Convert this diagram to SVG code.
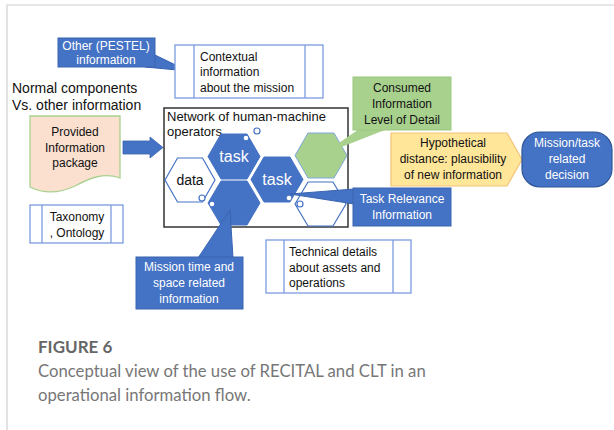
<svg xmlns="http://www.w3.org/2000/svg" width="614" height="430" viewBox="0 0 614 430">
<style>
text{font-family:"Liberation Sans",Arial,sans-serif;font-size:12px;fill:#111}
.w{fill:#fff}
.c{text-anchor:middle}
.blue{fill:#4472c4;stroke:#3a64b0;stroke-width:1}
.lbox{fill:#fff;stroke:#7c9be0;stroke-width:1.3}
.hexd{fill:#4472c4;stroke:#4472c4;stroke-width:1}
.hexw{fill:#fff;stroke:#4472c4;stroke-width:1.2}
.dot{fill:#fff;stroke:none}
.ring{fill:#fff;stroke:#4472c4;stroke-width:1.2}
.cap1{font-family:Lato,"Open Sans",sans-serif;font-size:17px;font-weight:bold;fill:#666}
.cap2{font-family:Lato,"Open Sans",sans-serif;font-size:16.7px;fill:#777}
</style>
<rect width="614" height="430" fill="#fff"/>
<path d="M7,430 V5 H614" fill="none" stroke="#d0d0d0" stroke-width="1.2"/>

<g id="heading">
<text x="12" y="93" style="font-size:14px">Normal components</text>
<text x="12" y="110" style="font-size:14px">Vs. other information</text>
</g>

<g id="network">
<rect x="164" y="108" width="184" height="119" fill="#fff" stroke="#333" stroke-width="1.5"/>
<text x="167" y="121" style="font-size:13px">Network of human-machine</text>
<text x="167" y="136" style="font-size:13px">operators</text>
</g>

<g id="hex-task1">
<polygon class="hexd" points="208,156.5 221,134 247,134 260,156.5 247,179 221,179"/>
<text x="234" y="162" class="w c" style="font-size:16px">task</text>
<circle class="dot" cx="246" cy="138" r="2.3"/>
<circle class="ring" cx="257" cy="131" r="3"/>
</g>
<g id="hex-data">
<polygon class="hexw" points="165,180 177.5,158 202.5,158 215,180 202.5,202 177.5,202"/>
<text x="190" y="185" class="c" style="font-size:14px">data</text>
<circle class="ring" cx="202" cy="198" r="3"/>
</g>
<g id="hex-bottom">
<polygon class="hexd" points="208,203 221,181 247,181 260,203 247,225 221,225"/>
<circle class="dot" cx="212" cy="204" r="2.3"/>
</g>
<g id="hex-task2">
<polygon class="hexd" points="251,179.5 264,157 290,157 303,179.5 290,202 264,202"/>
<text x="277" y="185" class="w c" style="font-size:16px">task</text>
<circle class="dot" cx="289" cy="198" r="2.3"/>
</g>
<g id="hex-green">
<polygon points="295,155.5 308,133 334,133 347,155.5 334,178 308,178" fill="#a9d18e" stroke="#7ea7dc" stroke-width="1"/>
</g>
<g id="hex-white">
<polygon class="hexw" points="295,204 308,182 333,182 346,204 333,226 308,226"/>
<circle class="ring" cx="300" cy="204" r="3"/>
</g>

<g id="connectors">
<polygon points="123,141 150,141 150,137 163,147.5 150,158 150,154 123,154" fill="#4472c4" stroke="#3a64b0" stroke-width="0.8"/>
</g>

<g id="pestel">
<polygon class="blue" points="155,55 188,71 145,67"/>
<rect class="blue" x="58" y="38" width="97" height="29"/>
<text x="106" y="50" class="w c">Other (PESTEL)</text>
<text x="106" y="64" class="w c">information</text>
</g>

<g id="contextual">
<rect class="lbox" x="175" y="45" width="148" height="53"/>
<line x1="194" y1="45" x2="194" y2="98" stroke="#7c9be0" stroke-width="1.3"/>
<line x1="305" y1="45" x2="305" y2="98" stroke="#7c9be0" stroke-width="1.3"/>
<text x="200" y="61">Contextual</text>
<text x="200" y="76">information</text>
<text x="200" y="92">about the mission</text>
</g>

<g id="provided">
<path d="M30,116 H120 V178 C104,172 90,178 75,186 C60,193 44,194 30,187 Z" fill="#fbe0d0" stroke="#a9d18e" stroke-width="1.3"/>
<text x="75" y="136" class="c">Provided</text>
<text x="75" y="152" class="c">Information</text>
<text x="75" y="167" class="c">package</text>
</g>

<g id="taxonomy">
<rect class="lbox" x="30" y="205" width="93" height="38"/>
<line x1="42" y1="205" x2="42" y2="243" stroke="#7c9be0" stroke-width="1.3"/>
<line x1="111" y1="205" x2="111" y2="243" stroke="#7c9be0" stroke-width="1.3"/>
<text x="77" y="221" class="c">Taxonomy</text>
<text x="77" y="237" class="c">, Ontology</text>
</g>

<g id="consumed">
<polygon points="360,129 386,129 325,153" fill="#a9d18e" stroke="#a9d18e" stroke-width="1"/>
<rect x="353" y="77" width="98" height="53" fill="#a9d18e" stroke="#9cc87f" stroke-width="1"/>
<text x="402" y="92" class="c">Consumed</text>
<text x="402" y="108" class="c">Information</text>
<text x="402" y="124" class="c">Level of Detail</text>
</g>

<g id="hypothetical">
<polygon points="391,133 507,133 522,159.5 507,186 391,186" fill="#ffe699" stroke="#f4c27a" stroke-width="1.2"/>
<text x="453" y="147" class="c">Hypothetical</text>
<text x="453" y="163" class="c">distance: plausibility</text>
<text x="453" y="179" class="c">of new information</text>
</g>

<g id="decision">
<rect x="522" y="132" width="90" height="55" rx="18" ry="18" fill="#4472c4" stroke="#2f5597" stroke-width="1.2"/>
<text x="567" y="147" class="w c">Mission/task</text>
<text x="567" y="163" class="w c">related</text>
<text x="567" y="179" class="w c">decision</text>
</g>

<g id="task-relevance">
<polygon class="blue" points="290,194 354,189 354,204"/>
<rect class="blue" x="353" y="188" width="98" height="38"/>
<text x="402" y="203" class="w c">Task Relevance</text>
<text x="402" y="219" class="w c">Information</text>
</g>

<g id="mission-time">
<polygon class="blue" points="198,258 230,210 233,258"/>
<rect class="blue" x="136" y="257" width="107" height="52"/>
<text x="189" y="271" class="w c">Mission time and</text>
<text x="189" y="287" class="w c">space related</text>
<text x="189" y="303" class="w c">information</text>
</g>

<g id="technical">
<rect class="lbox" x="266" y="240" width="145" height="53"/>
<line x1="284" y1="240" x2="284" y2="293" stroke="#7c9be0" stroke-width="1.3"/>
<line x1="393" y1="240" x2="393" y2="293" stroke="#7c9be0" stroke-width="1.3"/>
<text x="289" y="256">Technical details</text>
<text x="289" y="272">about assets and</text>
<text x="289" y="287">operations</text>
</g>

<g id="caption">
<text x="38" y="353" class="cap1">FIGURE 6</text>
<text x="38" y="377" class="cap2">Conceptual view of the use of RECITAL and CLT in an</text>
<text x="38" y="401" class="cap2">operational information flow.</text>
</g>
</svg>
